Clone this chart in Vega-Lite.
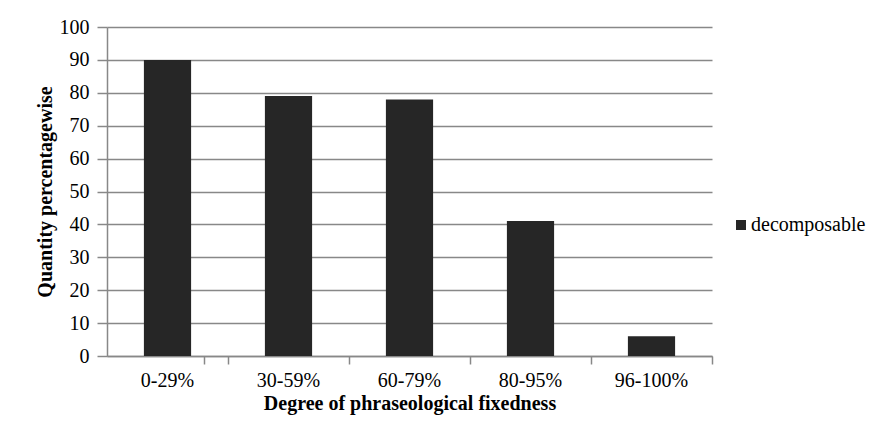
{
  "$schema": "https://vega.github.io/schema/vega-lite/v6.json",
  "width": 605,
  "height": 329,
  "autosize": {"type": "none"},
  "padding": {"left": 107, "top": 27, "right": 168, "bottom": 85},
  "background": "white",
  "data": {
    "values": [
      {"degree": "0-29%", "value": 90, "series": "decomposable"},
      {"degree": "30-59%", "value": 79, "series": "decomposable"},
      {"degree": "60-79%", "value": 78, "series": "decomposable"},
      {"degree": "80-95%", "value": 41, "series": "decomposable"},
      {"degree": "96-100%", "value": 6, "series": "decomposable"}
    ]
  },
  "layer": [
    {
      "mark": {"type": "bar", "color": "#262626"},
      "encoding": {
        "x": {
          "field": "degree",
          "type": "nominal",
          "sort": null,
          "scale": {"paddingInner": 0.61, "paddingOuter": 0.305},
          "axis": {
            "orient": "bottom",
            "title": "Degree of phraseological fixedness",
            "labelAngle": 0,
            "ticks": false,
            "labelPadding": 14,
            "titlePadding": 3,
            "grid": false,
            "labelFont": "Liberation Serif",
            "titleFont": "Liberation Serif",
            "labelFontSize": 20,
            "titleFontSize": 20,
            "titleFontWeight": "bold",
            "labelColor": "#000",
            "titleColor": "#000",
            "domainColor": "#888",
            "domainWidth": 1.5
          }
        },
        "y": {
          "field": "value",
          "type": "quantitative",
          "scale": {"domain": [0, 100]},
          "axis": {
            "title": "Quantity percentagewise",
            "values": [0, 10, 20, 30, 40, 50, 60, 70, 80, 90, 100],
            "labelOverlap": false,
            "tickSize": 10,
            "labelPadding": 8,
            "titlePadding": 4,
            "grid": true,
            "labelFont": "Liberation Serif",
            "titleFont": "Liberation Serif",
            "labelFontSize": 20,
            "titleFontSize": 20,
            "titleFontWeight": "bold",
            "labelColor": "#000",
            "titleColor": "#000",
            "domainColor": "#888",
            "domainWidth": 1.5,
            "tickColor": "#888",
            "tickWidth": 1.5,
            "gridColor": "#888",
            "gridWidth": 1.5,
            "gridOpacity": 1
          }
        },
        "color": {
          "field": "series",
          "type": "nominal",
          "scale": {"range": ["#262626"]},
          "legend": {
            "title": null,
            "orient": "none",
            "legendX": 624,
            "legendY": 188,
            "symbolType": "square",
            "symbolSize": 100,
            "symbolStrokeWidth": 0,
            "symbolOpacity": 1,
            "labelFontSize": 20,
            "labelFont": "Liberation Serif",
            "labelColor": "#000",
            "labelOffset": 0
          }
        }
      }
    },
    {
      "mark": {"type": "bar", "opacity": 0},
      "encoding": {
        "x": {
          "field": "degree",
          "type": "nominal",
          "sort": null,
          "axis": {
            "orient": "bottom",
            "title": null,
            "labels": false,
            "domain": false,
            "grid": false,
            "tickOffset": 60.5,
            "tickExtra": true,
            "tickSize": 8,
            "tickColor": "#888",
            "tickWidth": 1.5
          }
        }
      }
    }
  ],
  "resolve": {"axis": {"x": "independent"}},
  "config": {
    "view": {"stroke": null}
  }
}
